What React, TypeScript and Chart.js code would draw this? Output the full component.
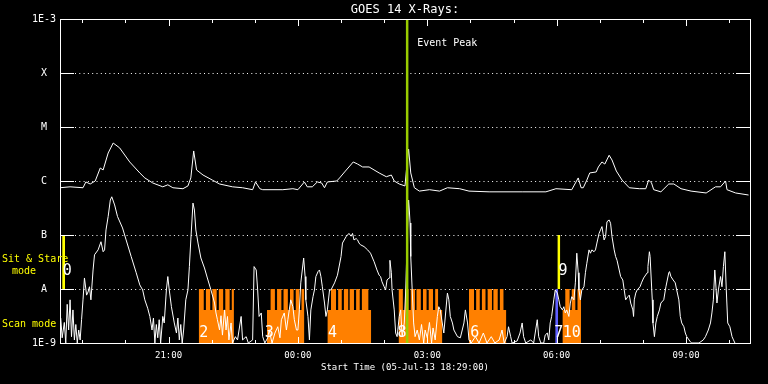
import { useEffect, useRef } from "react";
import { Chart, registerables } from "chart.js";

Chart.register(...registerables);

const MONO = "'DejaVu Sans Mono', monospace";

const TITLE = "GOES 14 X-Rays:";
const X_TITLE = "Start Time (05-Jul-13 18:29:00)";
const START = "18:29";
const END = "10:29";

const yTickValues = [1e-9, 1e-8, 1e-7, 1e-6, 1e-5, 1e-4, 1e-3];
const yTickLabels = ["1E-9", "A", "B", "C", "M", "X", "1E-3"];
const xTickLabels = ["21:00", "00:00", "03:00", "06:00", "09:00"];

// Long channel (1-8 A)
const longTimes = [
  "18:29", "18:43", "19:01", "19:05", "19:11", "19:18", "19:25", "19:29", "19:36", "19:43",
  "19:52", "20:06", "20:20", "20:27", "20:38", "20:52", "20:59", "21:06", "21:20", "21:27",
  "21:31", "21:35", "21:39", "21:48", "22:01", "22:11", "22:29", "22:43", "22:57", "23:01",
  "23:07", "23:11", "23:39", "23:53", "00:00", "00:09", "00:13", "00:20", "00:27", "00:33",
  "00:37", "00:41", "00:54", "00:58", "01:05", "01:17", "01:23", "01:30", "01:39", "01:53",
  "02:03", "02:10", "02:14", "02:21", "02:29", "02:31", "02:34", "02:37", "02:42", "02:49",
  "03:03", "03:17", "03:28", "03:45", "03:58", "04:26", "05:12", "05:45", "05:59", "06:21",
  "06:30", "06:34", "06:37", "06:42", "06:46", "06:55", "06:58", "07:03", "07:07", "07:13",
  "07:17", "07:23", "07:31", "07:41", "07:55", "08:04", "08:08", "08:12", "08:15", "08:25",
  "08:36", "08:43", "08:53", "09:07", "09:28", "09:41", "09:48", "09:55", "09:57", "10:09",
  "10:27",
];
const longFlux = [
  7.5e-7, 7.8e-7, 7.5e-7, 9.6e-7, 8.8e-7, 1.0e-6, 1.74e-6, 1.6e-6, 3.3e-6, 5.05e-6,
  4.1e-6, 2.25e-6, 1.41e-6, 1.14e-6, 9.2e-7, 7.8e-7, 8.5e-7, 7.5e-7, 7.2e-7, 8.1e-7,
  1.14e-6, 3.6e-6, 1.6e-6, 1.29e-6, 1.04e-6, 8.8e-7, 7.8e-7, 7.5e-7, 6.9e-7, 9.6e-7,
  7.2e-7, 6.9e-7, 6.9e-7, 7.2e-7, 6.9e-7, 9.6e-7, 7.8e-7, 7.8e-7, 9.6e-7, 9.2e-7,
  7.5e-7, 9.6e-7, 1.0e-6, 1.14e-6, 1.47e-6, 2.25e-6, 2.06e-6, 1.82e-6, 1.82e-6, 1.41e-6,
  1.2e-6, 1.29e-6, 1.0e-6, 8.8e-7, 8.1e-7, 1.6e-6, 3.9e-6, 1.41e-6, 7.5e-7, 6.5e-7,
  6.9e-7, 6.5e-7, 7.5e-7, 7.2e-7, 6.5e-7, 6.3e-7, 6.3e-7, 6.3e-7, 7.2e-7, 6.9e-7,
  1.14e-6, 7.5e-7, 7.5e-7, 1.04e-6, 1.41e-6, 1.47e-6, 1.82e-6, 2.25e-6, 2.06e-6, 3.0e-6,
  2.45e-6, 1.53e-6, 1.04e-6, 7.5e-7, 7.2e-7, 7.2e-7, 1.04e-6, 9.2e-7, 6.9e-7, 6.3e-7,
  8.8e-7, 8.8e-7, 7.2e-7, 6.5e-7, 6.0e-7, 7.8e-7, 7.8e-7, 1.0e-6, 6.9e-7, 6.0e-7,
  5.5e-7,
];

// Short channel (0.5-4 A)
const shortTimes = [
  "18:30", "18:32", "18:35", "18:37", "18:39", "18:41", "18:43", "18:45", "18:47", "18:49",
  "18:51", "18:53", "18:55", "18:57", "18:59", "19:01", "19:03", "19:06", "19:08", "19:10",
  "19:12", "19:15", "19:17", "19:22", "19:26", "19:29", "19:31", "19:33", "19:36", "19:39",
  "19:41", "19:45", "19:49", "19:56", "20:01", "20:08", "20:15", "20:20", "20:24", "20:27",
  "20:31", "20:34", "20:37", "20:39", "20:41", "20:43", "20:45", "20:47", "20:49", "20:52",
  "20:54", "20:57", "20:59", "21:01", "21:04", "21:08", "21:11", "21:13", "21:15", "21:17",
  "21:19", "21:21", "21:24", "21:27", "21:29", "21:31", "21:34", "21:36", "21:38", "21:41",
  "21:45", "21:50", "21:54", "21:59", "22:04", "22:06", "22:08", "22:11", "22:13", "22:15",
  "22:18", "22:20", "22:22", "22:24", "22:27", "22:29", "22:33", "22:36", "22:41", "22:43",
  "22:48", "22:51", "22:57", "22:59", "23:02", "23:04", "23:06", "23:09", "23:11", "23:14",
  "23:18", "23:20", "23:24", "23:28", "23:32", "23:35", "23:37", "23:41", "23:44", "23:46",
  "23:50", "23:53", "23:55", "23:58", "00:00", "00:02", "00:04", "00:08", "00:10", "00:11",
  "00:14", "00:16", "00:18", "00:21", "00:23", "00:25", "00:28", "00:30", "00:32", "00:34",
  "00:37", "00:39", "00:41", "00:44", "00:46", "00:51", "00:55", "01:00", "01:02", "01:07",
  "01:11", "01:14", "01:16", "01:18", "01:21", "01:23", "01:25", "01:27", "01:32", "01:37",
  "01:41", "01:46", "01:50", "01:53", "01:55", "01:57", "02:00", "02:02", "02:04", "02:07",
  "02:08", "02:10", "02:11", "02:14", "02:16", "02:18", "02:21", "02:23", "02:25", "02:28",
  "02:30", "02:32", "02:34", "02:35", "02:36", "02:37", "02:39", "02:41", "02:43", "02:46",
  "02:49", "02:52", "02:55", "02:57", "03:00", "03:03", "03:06", "03:08", "03:11", "03:14",
  "03:16", "03:18", "03:23", "03:28", "03:30", "03:32", "03:35", "03:37", "03:42", "03:46",
  "03:51", "03:53", "03:56", "03:58", "04:01", "04:07", "04:12", "04:18", "04:23", "04:29",
  "04:34", "04:40", "04:44", "04:47", "04:51", "04:53", "04:56", "04:58", "05:05", "05:09",
  "05:12", "05:14", "05:17", "05:24", "05:28", "05:33", "05:35", "05:38", "05:42", "05:44",
  "05:47", "05:49", "05:51", "05:53", "05:56", "05:58", "06:01", "06:03", "06:05", "06:08",
  "06:10", "06:12", "06:14", "06:17", "06:19", "06:21", "06:24", "06:26", "06:28", "06:30",
  "06:31", "06:33", "06:35", "06:38", "06:40", "06:42", "06:45", "06:47", "06:49", "06:52",
  "06:54", "06:56", "06:59", "07:01", "07:03", "07:06", "07:08", "07:10", "07:13", "07:15",
  "07:17", "07:20", "07:22", "07:24", "07:29", "07:32", "07:34", "07:36", "07:39", "07:41",
  "07:43", "07:46", "07:47", "07:48", "07:50", "07:52", "07:56", "07:58", "08:01", "08:06",
  "08:07", "08:09", "08:10", "08:13", "08:14", "08:16", "08:18", "08:20", "08:23", "08:25",
  "08:29", "08:32", "08:36", "08:37", "08:39", "08:42", "08:45", "08:47", "08:50", "08:52",
  "08:54", "08:57", "08:59", "09:01", "09:06", "09:08", "09:18", "09:24", "09:27", "09:31",
  "09:34", "09:36", "09:38", "09:40", "09:41", "09:43", "09:45", "09:48", "09:50", "09:52",
  "09:54", "09:56", "09:58", "10:01", "10:04", "10:06", "10:08",
];
const shortFlux = [
  2.9e-9, 1.25e-9, 2.4e-9, 1e-9, 5.2e-9, 1.74e-9, 6.3e-9, 1.31e-9, 4.1e-9, 1.14e-9,
  2.2e-9, 1e-9, 1.74e-9, 1.14e-9, 2.7e-9, 6.3e-9, 1.6e-8, 7.7e-9, 8.8e-9, 1.1e-8,
  6.3e-9, 2.25e-8, 4.3e-8, 5.3e-8, 7.5e-8, 4.9e-8, 5.3e-8, 1.24e-7, 2.2e-7, 4.45e-7,
  5.1e-7, 3.6e-7, 2.2e-7, 1.35e-7, 8.1e-8, 4.0e-8, 2.0e-8, 1.19e-8, 9.6e-9, 6.3e-9,
  4.4e-9, 3.1e-9, 1.74e-9, 2.9e-9, 1e-9, 2.2e-9, 1.25e-9, 2.7e-9, 1e-9, 3.1e-9,
  2.35e-9, 9.6e-9, 1.7e-8, 9.6e-9, 4.7e-9, 2.35e-9, 1.53e-9, 2.9e-9, 1.14e-9, 2.2e-9,
  1e-9, 1.74e-9, 6.3e-9, 9.6e-9, 2.6e-8, 8.1e-8, 3.9e-7, 2.9e-7, 1.24e-7, 7.1e-8,
  3.75e-8, 2.45e-8, 1.6e-8, 9.6e-9, 5.5e-9, 3.6e-9, 2.7e-9, 1.74e-9, 3.2e-9, 1.4e-9,
  4.1e-9, 1.74e-9, 3.1e-9, 1.14e-9, 2.35e-9, 1e-9, 1.31e-9, 1.14e-9, 3.1e-9, 1.14e-9,
  1.31e-9, 1e-9, 1.14e-9, 2.6e-8, 2.25e-8, 9.6e-9, 3.1e-9, 3.6e-9, 1.31e-9, 1e-9,
  1.25e-9, 1.74e-9, 1e-9, 1.53e-9, 2.0e-9, 1.25e-9, 2.7e-9, 3.6e-9, 1.74e-9, 2.7e-9,
  6.3e-9, 4.7e-9, 2.7e-9, 1.74e-9, 1.74e-9, 4.1e-9, 1.3e-8, 3.75e-8, 1.7e-8, 6.3e-9,
  3.1e-9, 1.14e-9, 4.1e-9, 7.2e-9, 9.6e-9, 1.7e-8, 2.1e-8, 2.25e-8, 1.7e-8, 1.1e-8,
  5.5e-9, 3.1e-9, 4.1e-9, 9.6e-9, 9.6e-9, 1.3e-8, 1.8e-8, 4.0e-8, 7.1e-8, 9.3e-8,
  1.07e-7, 9.5e-8, 1.07e-7, 8.1e-8, 8.6e-8, 8.1e-8, 7.1e-8, 6.6e-8, 6.1e-8, 5.3e-8,
  4.6e-8, 3.2e-8, 2.25e-8, 1.8e-8, 1.7e-8, 1.36e-8, 1.1e-8, 9.6e-9, 1.47e-8, 1.6e-8,
  3.4e-8, 2.0e-8, 9.6e-9, 4.1e-9, 1.53e-9, 1.31e-9, 3.1e-9, 4.1e-9, 1.31e-9, 2.35e-9,
  9.6e-9, 8.1e-8, 4.45e-7, 2.9e-7, 1.67e-7, 4.0e-8, 9.6e-9, 2.35e-9, 1.31e-9, 1.74e-9,
  1.14e-9, 2.2e-9, 1e-9, 1.74e-9, 1.25e-9, 2.4e-9, 1e-9, 1.9e-9, 1.14e-9, 3.1e-9,
  4.7e-9, 4.1e-9, 1.53e-9, 8.4e-9, 6.3e-9, 3.1e-9, 2.35e-9, 1.74e-9, 1.31e-9, 1.25e-9,
  2.35e-9, 4.1e-9, 2.35e-9, 1.14e-9, 1e-9, 1.31e-9, 1e-9, 1.53e-9, 1e-9, 1.31e-9,
  1e-9, 1.14e-9, 1.74e-9, 1e-9, 1.31e-9, 2.0e-9, 1.31e-9, 1e-9, 1.09e-9, 1.53e-9,
  2.35e-9, 1.31e-9, 1e-9, 1.14e-9, 1e-9, 2.7e-9, 1.31e-9, 1e-9, 1e-9, 1.4e-9,
  1.53e-9, 1.14e-9, 2.35e-9, 3.1e-9, 6.3e-9, 9.6e-9, 8.4e-9, 6.3e-9, 4.7e-9, 4.1e-9,
  4.7e-9, 3.6e-9, 4.1e-9, 3.1e-9, 5.5e-9, 7.2e-9, 6.3e-9, 1.3e-8, 4.6e-8, 2.0e-8,
  9.6e-9, 6.3e-9, 9.6e-9, 1.1e-8, 2.0e-8, 3.0e-8, 5.3e-8, 4.6e-8, 5.3e-8, 4.9e-8,
  5.3e-8, 7.1e-8, 1.07e-7, 1.24e-7, 1.43e-7, 8.1e-8, 9.3e-8, 1.76e-7, 1.9e-7, 1.65e-7,
  9.3e-8, 5.3e-8, 4.0e-8, 3.4e-8, 1.7e-8, 1.47e-8, 9.6e-9, 6.3e-9, 7.2e-9, 7.7e-9,
  5.5e-9, 4.1e-9, 3.1e-9, 6.3e-9, 8.4e-9, 9.6e-9, 1.1e-8, 1.3e-8, 1.6e-8, 2.0e-8,
  2.6e-8, 4.9e-8, 4.0e-8, 6.3e-9, 2.35e-9, 1.31e-9, 2.35e-9, 3.1e-9, 4.1e-9, 5.5e-9,
  6.3e-9, 1.1e-8, 2.0e-8, 2.1e-8, 1.7e-8, 1.47e-8, 1.3e-8, 9.6e-9, 6.3e-9, 3.1e-9,
  2.35e-9, 2.0e-9, 1.53e-9, 1.31e-9, 1.05e-9, 1e-9, 1e-9, 1.14e-9, 1.31e-9, 1.74e-9,
  2.35e-9, 3.6e-9, 6.3e-9, 2.25e-8, 1.47e-8, 5.5e-9, 9.6e-9, 1.7e-8, 1.1e-8, 2.6e-8,
  4.9e-8, 9.6e-9, 2.35e-9, 2.0e-9, 1.31e-9, 1.14e-9, 1e-9,
];

// Scan-mode raster blocks (top of teeth = A level, base of comb)
const scanTimes = [
  "21:42", "21:49", "21:52", "21:58", "22:01", "22:07", "22:10", "22:16", "22:19", "22:25", "22:28", "22:31", "22:31",
  "23:17", "23:22", "23:28", "23:31", "23:37", "23:40", "23:46", "23:49", "23:54", "23:57", "00:02", "00:05", "00:09", "00:09",
  "00:41", "00:46", "00:53", "00:56", "01:01", "01:04", "01:10", "01:12", "01:18", "01:21", "01:26", "01:29", "01:38", "01:42", "01:42",
  "02:20", "02:26", "02:29", "02:34", "02:37", "02:43", "02:45", "02:51", "02:54", "02:59", "03:02", "03:08", "03:11", "03:15", "03:21", "03:21",
  "03:58", "04:05", "04:08", "04:13", "04:16", "04:21", "04:24", "04:30", "04:32", "04:38", "04:41", "04:46", "04:50", "04:50",
  "06:08", "06:12", "06:18", "06:21", "06:26", "06:29", "06:34",
];
const scanFlux = [
  1e-8, 4.1e-9, 1e-8, 4.1e-9, 1e-8, 4.1e-9, 1e-8, 4.1e-9, 1e-8, 4.1e-9, 1e-8, 1e-8, null,
  4.1e-9, 1e-8, 4.1e-9, 1e-8, 4.1e-9, 1e-8, 4.1e-9, 1e-8, 4.1e-9, 1e-8, 4.1e-9, 1e-8, 1e-8, null,
  4.1e-9, 1e-8, 4.1e-9, 1e-8, 4.1e-9, 1e-8, 4.1e-9, 1e-8, 4.1e-9, 1e-8, 4.1e-9, 1e-8, 4.1e-9, 4.1e-9, null,
  1e-8, 4.1e-9, 1e-8, 4.1e-9, 1e-8, 4.1e-9, 1e-8, 4.1e-9, 1e-8, 4.1e-9, 1e-8, 4.1e-9, 1e-8, 4.1e-9, 4.1e-9, null,
  1e-8, 4.1e-9, 1e-8, 4.1e-9, 1e-8, 4.1e-9, 1e-8, 4.1e-9, 1e-8, 4.1e-9, 1e-8, 4.1e-9, 4.1e-9, null,
  4.1e-9, 1e-8, 4.1e-9, 1e-8, 4.1e-9, 1e-8, 1e-8,
];

// Sit & Stare intervals (A to B level)
const stareTimes = ["18:32", "18:36", "18:36", "06:01", "06:05"];
const stareFlux = [1e-7, 1e-7, null, 1e-7, 1e-7];

// Blue interval
const blueTimes = ["05:58", "06:02"];
const blueFlux = [1e-8, 1e-8];

const eventTime = "02:32";
const eventLabel = "Event Peak";
const eventLabelFlux = 3.6e-4;

const scanLabels = ["2", "3", "4", "8", "6", "7", "10"];
const scanLabelTimes = ["21:49", "23:20", "00:48", "02:25", "04:06", "06:03", "06:21"];
const scanLabelFlux = [1.5e-9, 1.5e-9, 1.5e-9, 1.5e-9, 1.5e-9, 1.5e-9, 1.5e-9];

const stareLabels = ["0", "9"];
const stareLabelTimes = ["18:39", "06:09"];
const stareLabelFlux = [2.1e-8, 2.1e-8];

const toMin = (t: string) => {
  const [h, m] = t.split(":").map(Number);
  let v = h * 60 + m;
  if (h < 18) v += 1440;
  return v;
};
const fmt = (v: number) => {
  const m = ((Math.round(v) % 1440) + 1440) % 1440;
  const h = Math.floor(m / 60);
  const mm = m % 60;
  return `${String(h).padStart(2, "0")}:${String(mm).padStart(2, "0")}`;
};
const pts = (times: string[], vals: (number | null)[]) =>
  times.map((t, i) => ({ x: toMin(t), y: vals[i] }));

const overlay = {
  id: "goesOverlay",
  beforeDatasetsDraw(chart: any) {
    const { ctx, chartArea: a, scales } = chart;
    ctx.save();
    ctx.strokeStyle = "#fff";
    ctx.lineWidth = 1;
    ctx.setLineDash([1, 3.3]);
    yTickValues.slice(1, -1).forEach((v) => {
      const py = Math.round(scales.y.getPixelForValue(v)) + 0.5;
      ctx.beginPath();
      ctx.moveTo(a.left + 15, py);
      ctx.lineTo(a.right - 15, py);
      ctx.stroke();
    });
    ctx.restore();
  },
  afterDatasetsDraw(chart: any) {
    const { ctx, chartArea: a, scales } = chart;
    const xs = scales.x;
    const ys = scales.y;
    ctx.save();
    ctx.setLineDash([]);
    ctx.strokeStyle = "#fff";
    ctx.lineWidth = 1;
    ctx.strokeRect(a.left + 0.5, a.top + 0.5, a.right - a.left, a.bottom - a.top);
    yTickValues.slice(1, -1).forEach((v) => {
      const py = Math.round(ys.getPixelForValue(v)) + 0.5;
      ctx.beginPath();
      ctx.moveTo(a.left, py);
      ctx.lineTo(a.left + 14, py);
      ctx.moveTo(a.right - 14, py);
      ctx.lineTo(a.right + 1, py);
      ctx.stroke();
    });
    xs.ticks.forEach((t: any) => {
      const px = Math.round(xs.getPixelForValue(t.value)) + 0.5;
      const len = xTickLabels.includes(fmt(t.value)) ? 7 : 4;
      ctx.beginPath();
      ctx.moveTo(px, a.top);
      ctx.lineTo(px, a.top + len);
      ctx.moveTo(px, a.bottom + 1);
      ctx.lineTo(px, a.bottom + 1 - len);
      ctx.stroke();
    });
    ctx.fillStyle = "#fff";
    ctx.textBaseline = "middle";
    ctx.textAlign = "left";
    ctx.font = `10px ${MONO}`;
    ctx.fillText(eventLabel, xs.getPixelForValue(toMin(eventTime)) + 10, ys.getPixelForValue(eventLabelFlux));
    ctx.textAlign = "center";
    ctx.font = `15px ${MONO}`;
    scanLabels.forEach((l, i) => {
      ctx.fillText(l, xs.getPixelForValue(toMin(scanLabelTimes[i])), ys.getPixelForValue(scanLabelFlux[i]));
    });
    stareLabels.forEach((l, i) => {
      ctx.fillText(l, xs.getPixelForValue(toMin(stareLabelTimes[i])), ys.getPixelForValue(stareLabelFlux[i]));
    });
    ctx.fillStyle = "#ffff00";
    ctx.font = `10px ${MONO}`;
    ctx.textAlign = "left";
    ctx.fillText("Sit & Stare", 2, 259);
    ctx.textAlign = "center";
    ctx.fillText("mode", 24, 271);
    ctx.textAlign = "left";
    ctx.fillText("Scan mode", 2, 324);
    ctx.restore();
  },
};

export default function App() {
  const ref = useRef<HTMLCanvasElement>(null);
  useEffect(() => {
    const xMin = toMin(START);
    const xMax = toMin(END);
    const ev = toMin(eventTime);
    const chart = new Chart(ref.current as HTMLCanvasElement, {
      type: "line",
      data: {
        datasets: [
          {
            label: "event",
            data: [{ x: ev, y: 1e-9 }, { x: ev, y: 1e-3 }],
            borderColor: "#99cc00",
            borderWidth: 2.5,
            pointRadius: 0,
            order: -1,
          },
          {
            label: "long",
            data: pts(longTimes, longFlux),
            borderColor: "#ffffff",
            borderWidth: 1,
            pointRadius: 0,
            tension: 0,
            order: 0,
          },
          {
            label: "short",
            data: pts(shortTimes, shortFlux),
            borderColor: "#ffffff",
            borderWidth: 1,
            pointRadius: 0,
            tension: 0,
            order: 0,
          },
          {
            label: "scan",
            data: pts(scanTimes, scanFlux),
            borderColor: "rgba(0,0,0,0)",
            borderWidth: 0,
            backgroundColor: "#ff8000",
            fill: "start",
            stepped: "before",
            pointRadius: 0,
            spanGaps: false,
            order: 3,
          },
          {
            label: "blue",
            data: pts(blueTimes, blueFlux),
            borderColor: "rgba(0,0,0,0)",
            borderWidth: 0,
            backgroundColor: "#6060ff",
            fill: "start",
            stepped: "before",
            pointRadius: 0,
            order: 2,
          },
          {
            label: "stare",
            data: pts(stareTimes, stareFlux),
            borderColor: "rgba(0,0,0,0)",
            borderWidth: 0,
            backgroundColor: "#ffff00",
            fill: { value: 1e-8 },
            stepped: "before",
            pointRadius: 0,
            spanGaps: false,
            order: 2,
          },
        ],
      } as any,
      options: {
        responsive: false,
        animation: false,
        events: [],
        layout: { padding: { left: 0, right: 18, top: 0, bottom: 0 } },
        plugins: {
          legend: { display: false },
          tooltip: { enabled: false },
          title: {
            display: true,
            text: TITLE,
            color: "#ffffff",
            fullSize: false,
            font: { family: MONO, size: 12, weight: "normal" },
            padding: { top: 3, bottom: 1.6 },
          },
        },
        scales: {
          x: {
            type: "linear",
            min: xMin,
            max: xMax,
            afterBuildTicks: (s: any) => {
              const t: any[] = [];
              for (let m = Math.ceil(xMin / 60) * 60; m <= xMax; m += 60) t.push({ value: m });
              s.ticks = t;
            },
            afterFit: (s: any) => {
              s.height = 41;
            },
            grid: { display: false, drawTicks: false },
            border: { display: false },
            ticks: {
              autoSkip: false,
              maxRotation: 0,
              color: "#ffffff",
              font: { family: MONO, size: 9 },
              padding: 7,
              callback: (v: any) => {
                const l = fmt(Number(v));
                return xTickLabels.includes(l) ? l : "";
              },
            },
            title: {
              display: true,
              text: X_TITLE,
              color: "#ffffff",
              font: { family: MONO, size: 9 },
              padding: { top: 0, bottom: 10.6 },
            },
          },
          y: {
            type: "logarithmic",
            min: 1e-9,
            max: 1e-3,
            afterBuildTicks: (s: any) => {
              s.ticks = yTickValues.map((v) => ({ value: v }));
            },
            afterFit: (s: any) => {
              s.width = 60;
            },
            grid: { display: false, drawTicks: false },
            border: { display: false },
            ticks: {
              autoSkip: false,
              color: "#ffffff",
              font: { family: MONO, size: 10 },
              padding: 4,
              crossAlign: "center",
              callback: (_v: any, i: number) => yTickLabels[i],
            },
          },
        },
      } as any,
      plugins: [overlay],
    });
    return () => chart.destroy();
  }, []);
  return (
    <div style={{ position: "fixed", left: 0, top: 0, width: 768, height: 384, background: "#000" }}>
      <canvas ref={ref} width={768} height={384} style={{ display: "block" }} />
    </div>
  );
}
